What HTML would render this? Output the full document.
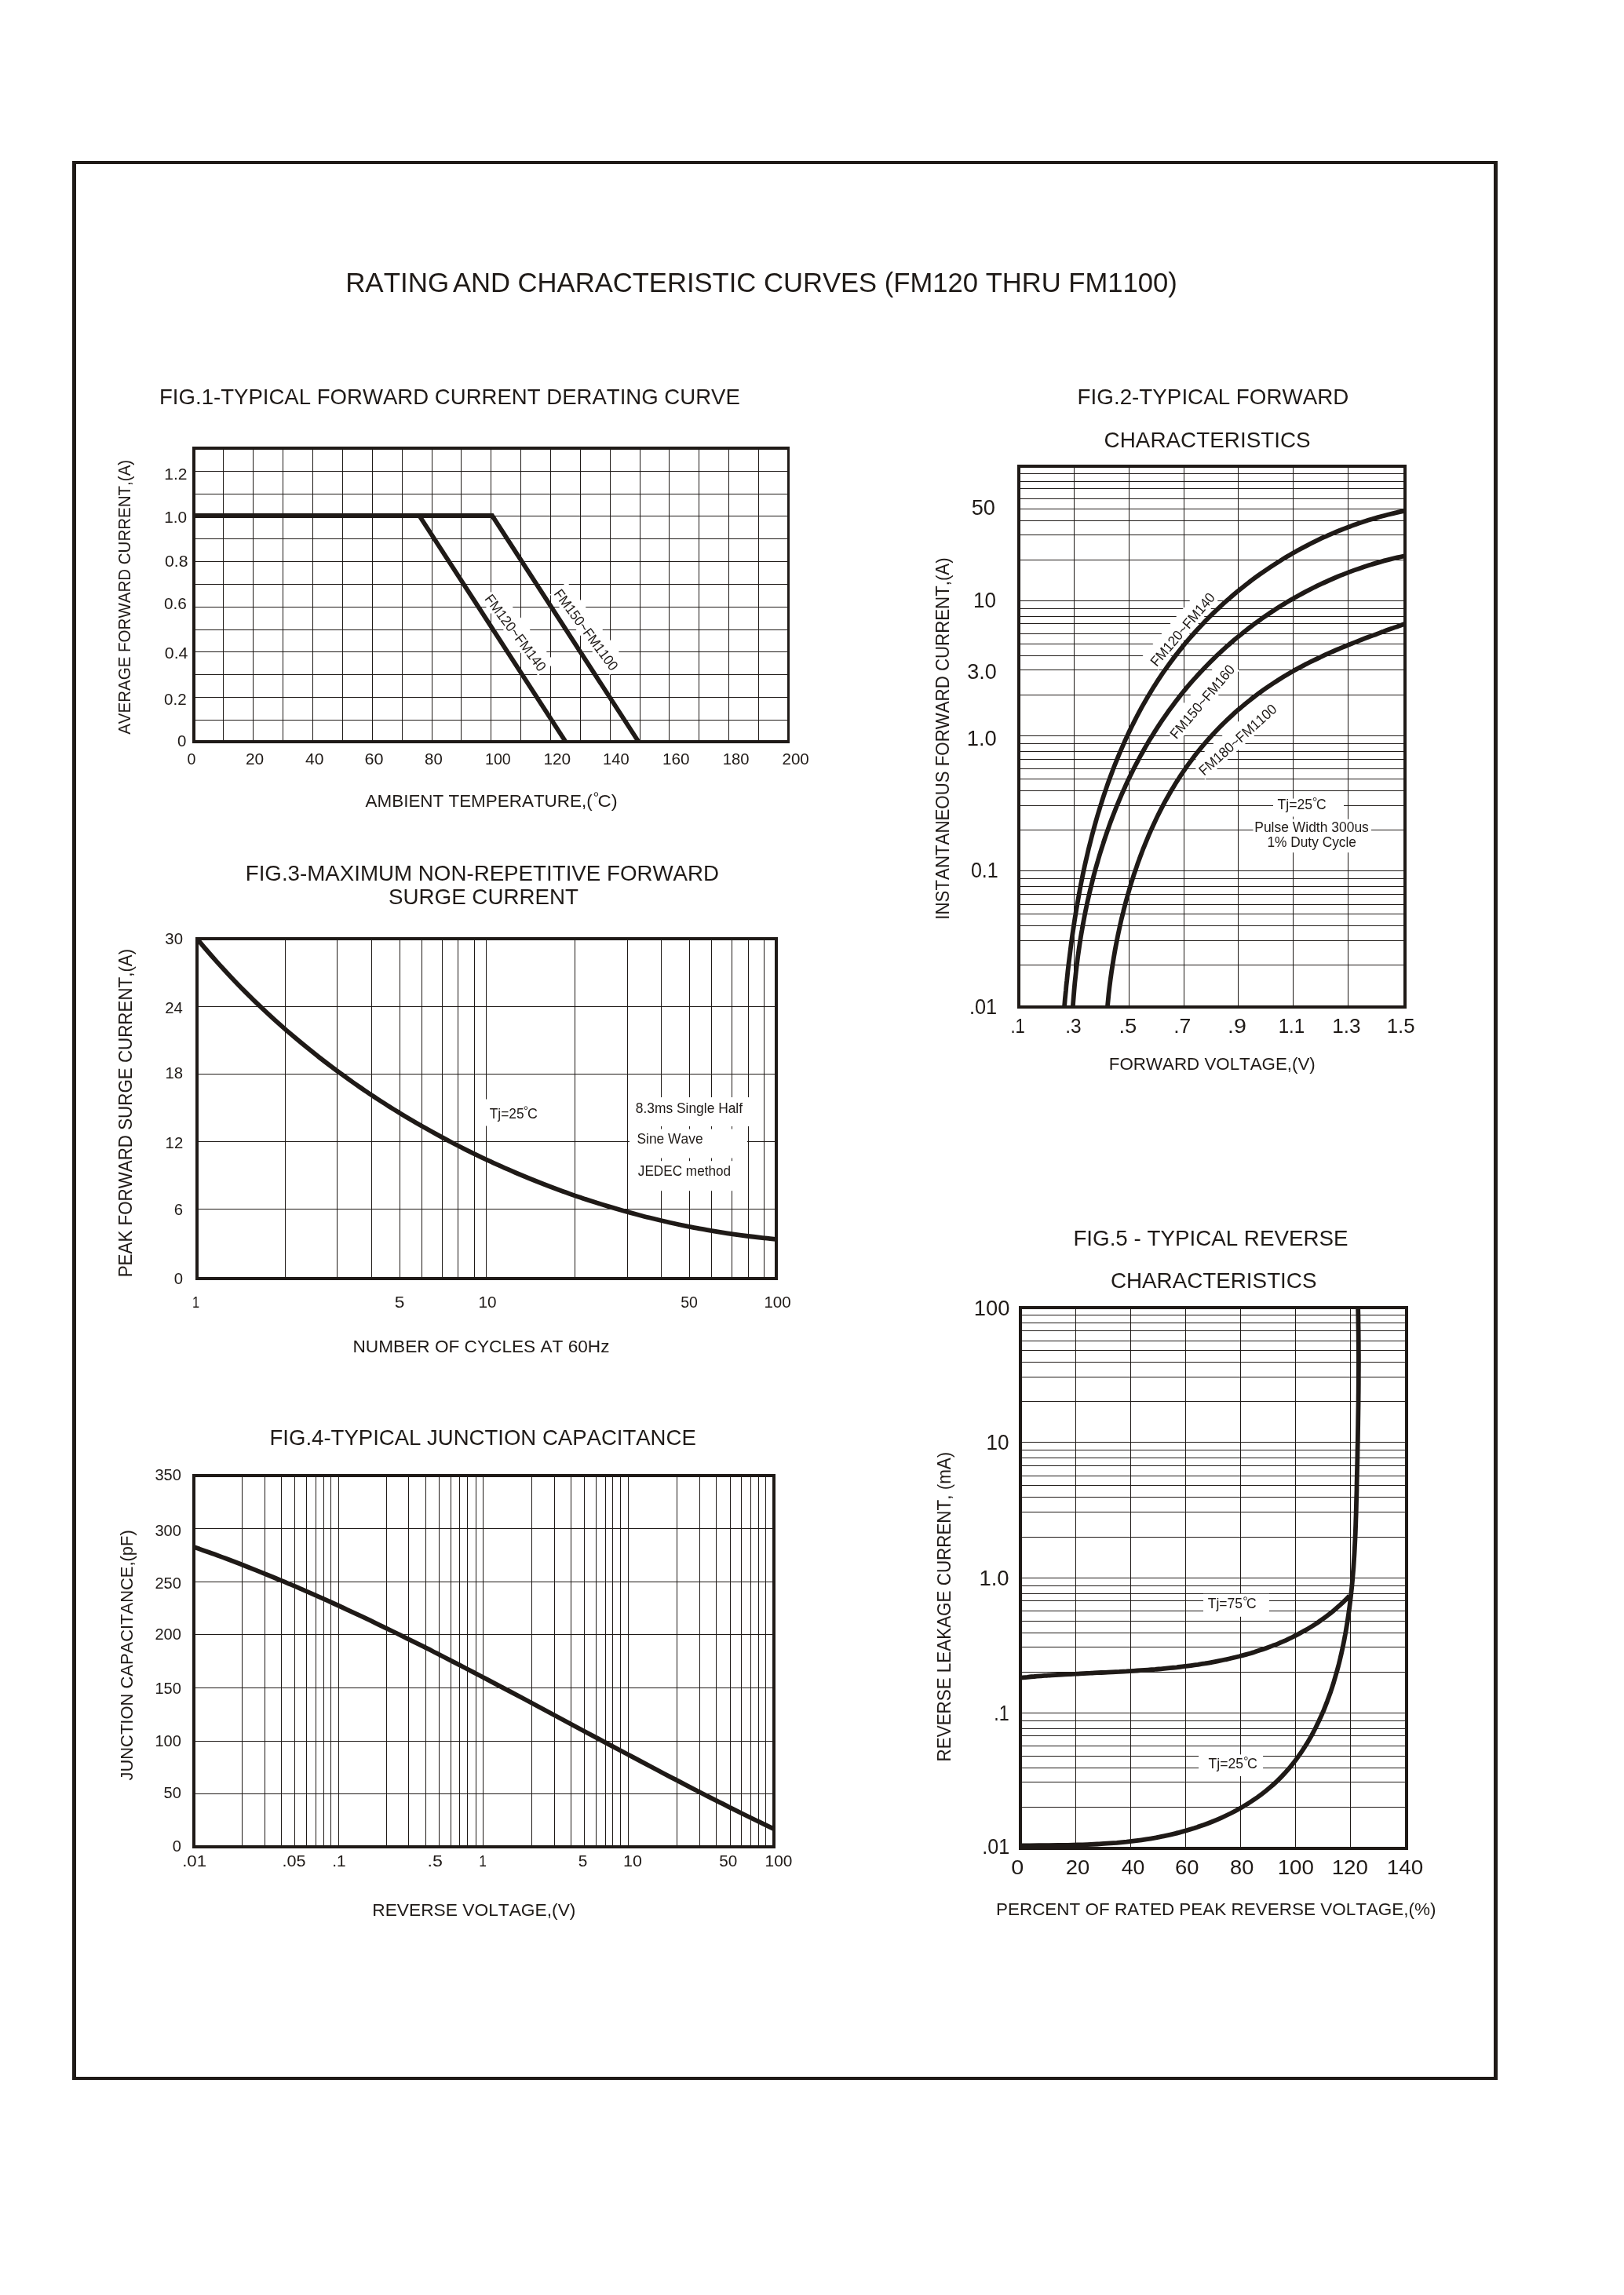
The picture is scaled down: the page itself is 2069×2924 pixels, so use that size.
<!DOCTYPE html>
<html><head><meta charset="utf-8"><title>Rating and Characteristic Curves</title>
<style>
html,body{margin:0;padding:0;background:#fff}
svg{display:block;will-change:transform}
text{font-family:"Liberation Sans",sans-serif;fill:#1f1a17;stroke:none;font-kerning:none;white-space:pre}
.halo{paint-order:stroke;stroke:#fff;stroke-width:3px;stroke-linejoin:round}
</style></head><body>
<svg width="2069" height="2924" viewBox="0 0 2069 2924" stroke="#1f1a17" fill="none">
<rect x="0" y="0" width="2069" height="2924" fill="#fff" stroke="none"/>
<path fill-rule="evenodd" fill="#1f1a17" stroke="none" d="M92,205H1908V2650H92Z M97,209V2646H1903V209Z"/>
<text x="440.13" y="371.70" font-size="34.88" textLength="132.08" lengthAdjust="spacingAndGlyphs" >RATING</text>
<text x="576.93" y="371.70" font-size="34.88" textLength="922.91" lengthAdjust="spacingAndGlyphs" >AND CHARACTERISTIC CURVES (FM120 THRU FM1100)</text>
<text x="203.04" y="514.50" font-size="26.89" textLength="739.85" lengthAdjust="spacingAndGlyphs" >FIG.1-TYPICAL FORWARD CURRENT DERATING CURVE</text>
<path d="M284.50,571.00V945.00M322.50,571.00V945.00M360.50,571.00V945.00M398.50,571.00V945.00M436.50,571.00V945.00M474.50,571.00V945.00M512.50,571.00V945.00M550.50,571.00V945.00M587.50,571.00V945.00M625.50,571.00V945.00M663.50,571.00V945.00M701.50,571.00V945.00M739.50,571.00V945.00M777.50,571.00V945.00M815.50,571.00V945.00M852.50,571.00V945.00M890.50,571.00V945.00M928.50,571.00V945.00M966.50,571.00V945.00M247.00,600.50H1004.50M247.00,629.50H1004.50M247.00,657.50H1004.50M247.00,686.50H1004.50M247.00,715.50H1004.50M247.00,744.50H1004.50M247.00,773.50H1004.50M247.00,802.50H1004.50M247.00,830.50H1004.50M247.00,859.50H1004.50M247.00,888.50H1004.50M247.00,917.50H1004.50" stroke-width="1.0" fill="none"/>
<clipPath id="c1"><rect x="247.00" y="571.00" width="757.50" height="376.00"/></clipPath>
<rect x="614.50" y="741.20" width="121.00" height="27.00" fill="#fff" stroke="none" transform="rotate(53.00 617.50 764.20)"/>
<rect x="702.80" y="734.50" width="127.70" height="27.00" fill="#fff" stroke="none" transform="rotate(53.50 705.80 757.50)"/>
<path d="M247,657 H627 L813.5,945" stroke-width="5.8" fill="none" stroke-linejoin="miter" clip-path="url(#c1)"/>
<path d="M534.2,657 L720.6,945" stroke-width="5.8" fill="none" stroke-linejoin="miter" clip-path="url(#c1)"/>
<path fill-rule="evenodd" fill="#1f1a17" stroke="none" d="M245,569H1006V947H245Z M249,573V943H1003V573Z"/>
<text x="209.20" y="610.60" font-size="20.20" textLength="29.26" lengthAdjust="spacingAndGlyphs" >1.2</text>
<text x="209.21" y="665.60" font-size="20.20" textLength="29.00" lengthAdjust="spacingAndGlyphs" >1.0</text>
<text x="209.97" y="721.60" font-size="20.20" textLength="29.55" lengthAdjust="spacingAndGlyphs" >0.8</text>
<text x="208.99" y="776.40" font-size="20.20" textLength="28.93" lengthAdjust="spacingAndGlyphs" >0.6</text>
<text x="209.77" y="838.60" font-size="20.20" textLength="29.66" lengthAdjust="spacingAndGlyphs" >0.4</text>
<text x="209.00" y="897.80" font-size="20.20" textLength="28.64" lengthAdjust="spacingAndGlyphs" >0.2</text>
<text x="226.00" y="950.60" font-size="20.20" textLength="11.40" lengthAdjust="spacingAndGlyphs" >0</text>
<text x="238.43" y="973.60" font-size="20.35" textLength="10.94" lengthAdjust="spacingAndGlyphs" >0</text>
<text x="312.95" y="973.60" font-size="20.35" textLength="23.27" lengthAdjust="spacingAndGlyphs" >20</text>
<text x="388.91" y="973.60" font-size="20.35" textLength="23.51" lengthAdjust="spacingAndGlyphs" >40</text>
<text x="464.50" y="973.60" font-size="20.35" textLength="24.04" lengthAdjust="spacingAndGlyphs" >60</text>
<text x="541.11" y="973.60" font-size="20.35" textLength="22.68" lengthAdjust="spacingAndGlyphs" >80</text>
<text x="618.00" y="973.60" font-size="20.35" textLength="32.76" lengthAdjust="spacingAndGlyphs" >100</text>
<text x="692.41" y="973.60" font-size="20.35" textLength="34.80" lengthAdjust="spacingAndGlyphs" >120</text>
<text x="767.97" y="973.60" font-size="20.35" textLength="33.62" lengthAdjust="spacingAndGlyphs" >140</text>
<text x="843.93" y="973.60" font-size="20.35" textLength="34.48" lengthAdjust="spacingAndGlyphs" >160</text>
<text x="920.66" y="973.60" font-size="20.35" textLength="33.73" lengthAdjust="spacingAndGlyphs" >180</text>
<text x="996.46" y="973.60" font-size="20.35" textLength="34.34" lengthAdjust="spacingAndGlyphs" >200</text>
<text x="465.56" y="1027.80" font-size="22.82" textLength="289.08" lengthAdjust="spacingAndGlyphs" >AMBIENT TEMPERATURE,(</text>
<text x="761.59" y="1027.80" font-size="22.82" textLength="25.19" lengthAdjust="spacingAndGlyphs" >C)</text>
<circle cx="759.4" cy="1012" r="2.3" fill="none" stroke-width="1"/>
<text transform="translate(166.40,935.80) rotate(-90)" x="-0.04" y="0" font-size="21.66" textLength="350.01" lengthAdjust="spacingAndGlyphs" >AVERAGE FORWARD CURRENT,(A)</text>
<text transform="translate(617.50,764.20) rotate(53.00)" x="-1.41" y="0" font-size="18.02" textLength="117.08" lengthAdjust="spacingAndGlyphs" >FM120~FM140</text>
<text transform="translate(705.80,757.50) rotate(53.50)" x="-1.38" y="0" font-size="18.02" textLength="123.73" lengthAdjust="spacingAndGlyphs" >FM150~FM1100</text>
<text x="312.73" y="1121.50" font-size="26.89" textLength="603.40" lengthAdjust="spacingAndGlyphs" >FIG.3-MAXIMUM NON-REPETITIVE FORWARD</text>
<text x="495.04" y="1152.30" font-size="27.33" textLength="241.90" lengthAdjust="spacingAndGlyphs" >SURGE CURRENT</text>
<path d="M363.50,1196.00V1629.00M429.50,1196.00V1629.00M473.50,1196.00V1629.00M509.50,1196.00V1629.00M537.50,1196.00V1629.00M563.50,1196.00V1629.00M583.50,1196.00V1629.00M604.50,1196.00V1629.00M619.50,1196.00V1629.00M732.50,1196.00V1629.00M799.50,1196.00V1629.00M842.50,1196.00V1629.00M878.50,1196.00V1629.00M906.50,1196.00V1629.00M932.50,1196.00V1629.00M953.50,1196.00V1629.00M973.50,1196.00V1629.00M251.00,1282.50H989.00M251.00,1368.50H989.00M251.00,1454.50H989.00M251.00,1540.50H989.00" stroke-width="1.0" fill="none"/>
<clipPath id="c3"><rect x="251.00" y="1196.00" width="738.00" height="433.00"/></clipPath>
<path d="M251.1,1196.1 C253.0,1198.4 258.8,1205.4 262.8,1210.0 C266.7,1214.6 270.7,1219.1 274.7,1223.6 C278.7,1228.1 282.8,1232.6 286.9,1237.0 C291.0,1241.5 295.1,1245.9 299.3,1250.2 C303.5,1254.6 307.7,1258.9 311.9,1263.1 C316.2,1267.4 320.5,1271.7 324.8,1275.9 C329.2,1280.1 333.5,1284.2 338.0,1288.3 C342.4,1292.4 346.8,1296.5 351.3,1300.6 C355.8,1304.6 360.3,1308.6 364.8,1312.6 C369.4,1316.5 374.0,1320.4 378.6,1324.3 C383.2,1328.2 387.9,1332.0 392.6,1335.8 C397.3,1339.6 402.0,1343.4 406.7,1347.1 C411.5,1350.8 416.3,1354.5 421.1,1358.1 C425.9,1361.8 430.8,1365.4 435.7,1368.9 C440.6,1372.5 445.5,1376.0 450.4,1379.5 C455.4,1383.0 460.3,1386.4 465.3,1389.8 C470.3,1393.2 475.4,1396.5 480.4,1399.8 C485.5,1403.2 490.6,1406.4 495.7,1409.7 C500.8,1412.9 506.0,1416.1 511.1,1419.2 C516.3,1422.4 521.5,1425.5 526.7,1428.5 C531.9,1431.6 537.2,1434.6 542.5,1437.6 C547.7,1440.6 553.0,1443.5 558.4,1446.4 C563.7,1449.3 569.0,1452.2 574.4,1455.0 C579.8,1457.8 585.2,1460.6 590.6,1463.3 C596.0,1466.0 601.4,1468.7 606.9,1471.3 C612.4,1474.0 617.8,1476.6 623.3,1479.1 C628.8,1481.7 634.4,1484.2 639.9,1486.7 C645.4,1489.2 651.0,1491.6 656.6,1494.0 C662.2,1496.3 667.8,1498.7 673.4,1501.0 C679.0,1503.3 684.6,1505.5 690.3,1507.7 C695.9,1509.9 701.6,1512.1 707.3,1514.2 C713.0,1516.3 718.7,1518.4 724.4,1520.4 C730.1,1522.5 735.8,1524.4 741.6,1526.4 C747.3,1528.3 753.1,1530.2 758.9,1532.0 C764.7,1533.9 770.4,1535.7 776.2,1537.4 C782.1,1539.1 787.9,1540.8 793.7,1542.5 C799.5,1544.1 805.4,1545.7 811.2,1547.3 C817.1,1548.8 822.9,1550.4 828.8,1551.8 C834.7,1553.3 840.5,1554.7 846.4,1556.0 C852.3,1557.4 858.2,1558.7 864.1,1560.0 C870.0,1561.2 876.0,1562.4 881.9,1563.6 C887.8,1564.7 893.7,1565.9 899.7,1566.9 C905.6,1568.0 911.6,1569.0 917.5,1569.9 C923.5,1570.9 929.4,1571.8 935.4,1572.6 C941.4,1573.5 947.3,1574.3 953.3,1575.0 C959.3,1575.8 965.3,1576.5 971.2,1577.1 C977.2,1577.8 986.2,1578.6 989.2,1578.9" stroke-width="5.8" fill="none" stroke-linejoin="miter" clip-path="url(#c3)"/>
<path fill-rule="evenodd" fill="#1f1a17" stroke="none" d="M249,1194H991V1631H249Z M253,1198V1627H987V1198Z"/>
<text x="210.36" y="1202.50" font-size="20.35" textLength="22.63" lengthAdjust="spacingAndGlyphs" >30</text>
<text x="210.16" y="1290.60" font-size="20.35" textLength="22.63" lengthAdjust="spacingAndGlyphs" >24</text>
<text x="210.45" y="1373.60" font-size="20.35" textLength="22.63" lengthAdjust="spacingAndGlyphs" >18</text>
<text x="210.59" y="1462.80" font-size="20.35" textLength="22.63" lengthAdjust="spacingAndGlyphs" >12</text>
<text x="221.78" y="1547.60" font-size="20.35" textLength="11.32" lengthAdjust="spacingAndGlyphs" >6</text>
<text x="221.68" y="1635.90" font-size="20.35" textLength="11.32" lengthAdjust="spacingAndGlyphs" >0</text>
<text x="244.95" y="1666.00" font-size="20.93" textLength="9.16" lengthAdjust="spacingAndGlyphs" >1</text>
<text x="502.69" y="1666.00" font-size="20.93" textLength="12.67" lengthAdjust="spacingAndGlyphs" >5</text>
<text x="609.42" y="1666.00" font-size="20.93" textLength="23.09" lengthAdjust="spacingAndGlyphs" >10</text>
<text x="867.22" y="1666.00" font-size="20.93" textLength="21.75" lengthAdjust="spacingAndGlyphs" >50</text>
<text x="973.43" y="1666.00" font-size="20.93" textLength="34.37" lengthAdjust="spacingAndGlyphs" >100</text>
<text x="449.54" y="1722.60" font-size="21.51" textLength="326.98" lengthAdjust="spacingAndGlyphs" >NUMBER OF CYCLES AT 60Hz</text>
<text transform="translate(168.20,1625.50) rotate(-90)" x="-1.83" y="0" font-size="23.26" textLength="418.52" lengthAdjust="spacingAndGlyphs" >PEAK FORWARD SURGE CURRENT,(A)</text>
<rect x="612.00" y="1400.50" width="80.00" height="34.00" fill="#fff" stroke="none"/>
<text x="623.71" y="1424.60" font-size="17.88" textLength="43.82" lengthAdjust="spacingAndGlyphs" >Tj=25</text>
<text x="671.89" y="1424.60" font-size="17.88" textLength="12.89" lengthAdjust="spacingAndGlyphs" >C</text>
<circle cx="669.9" cy="1411.7" r="1.9" fill="none" stroke-width="0.9"/>
<rect x="802.00" y="1398.00" width="157.00" height="37.00" fill="#fff" stroke="none"/>
<rect x="802.00" y="1438.50" width="150.00" height="37.00" fill="#fff" stroke="none"/>
<rect x="802.00" y="1479.20" width="150.00" height="38.00" fill="#fff" stroke="none"/>
<text x="809.84" y="1417.60" font-size="17.88" textLength="136.23" lengthAdjust="spacingAndGlyphs" >8.3ms Single Half</text>
<text x="811.51" y="1456.50" font-size="17.44" textLength="84.06" lengthAdjust="spacingAndGlyphs" >Sine Wave</text>
<text x="812.83" y="1498.40" font-size="17.44" textLength="118.27" lengthAdjust="spacingAndGlyphs" >JEDEC method</text>
<text x="343.54" y="1841.40" font-size="27.04" textLength="543.24" lengthAdjust="spacingAndGlyphs" >FIG.4-TYPICAL JUNCTION CAPACITANCE</text>
<path d="M308.50,1880.00V2353.00M337.50,1880.00V2353.00M358.50,1880.00V2353.00M375.50,1880.00V2353.00M390.50,1880.00V2353.00M402.50,1880.00V2353.00M412.50,1880.00V2353.00M421.50,1880.00V2353.00M431.50,1880.00V2353.00M492.50,1880.00V2353.00M520.50,1880.00V2353.00M542.50,1880.00V2353.00M559.50,1880.00V2353.00M574.50,1880.00V2353.00M585.50,1880.00V2353.00M595.50,1880.00V2353.00M606.50,1880.00V2353.00M615.50,1880.00V2353.00M677.50,1880.00V2353.00M706.50,1880.00V2353.00M727.50,1880.00V2353.00M744.50,1880.00V2353.00M759.50,1880.00V2353.00M771.50,1880.00V2353.00M780.50,1880.00V2353.00M790.50,1880.00V2353.00M800.50,1880.00V2353.00M862.50,1880.00V2353.00M891.50,1880.00V2353.00M912.50,1880.00V2353.00M930.50,1880.00V2353.00M944.50,1880.00V2353.00M956.50,1880.00V2353.00M966.50,1880.00V2353.00M975.50,1880.00V2353.00M247.00,1947.50H986.00M247.00,2015.50H986.00M247.00,2082.50H986.00M247.00,2150.50H986.00M247.00,2218.50H986.00M247.00,2285.50H986.00" stroke-width="1.0" fill="none"/>
<clipPath id="c4"><rect x="247.00" y="1880.00" width="739.00" height="473.00"/></clipPath>
<path d="M247.0,1971.0 C250.3,1972.2 260.3,1975.7 266.9,1978.1 C273.6,1980.4 280.2,1982.9 286.8,1985.3 C293.4,1987.8 300.0,1990.3 306.5,1992.8 C313.1,1995.4 319.6,1998.0 326.2,2000.6 C332.7,2003.2 339.2,2005.8 345.7,2008.5 C352.2,2011.1 358.7,2013.9 365.2,2016.6 C371.7,2019.3 378.1,2022.1 384.6,2024.9 C391.0,2027.7 397.4,2030.5 403.9,2033.3 C410.3,2036.2 416.7,2039.1 423.1,2042.0 C429.5,2044.9 435.9,2047.8 442.2,2050.8 C448.6,2053.7 455.0,2056.7 461.3,2059.7 C467.7,2062.7 474.0,2065.7 480.3,2068.8 C486.7,2071.8 493.0,2074.9 499.3,2078.0 C505.6,2081.0 511.9,2084.1 518.2,2087.3 C524.5,2090.4 530.8,2093.5 537.1,2096.7 C543.4,2099.8 549.6,2103.0 555.9,2106.2 C562.2,2109.4 568.4,2112.6 574.7,2115.8 C580.9,2119.0 587.2,2122.3 593.4,2125.5 C599.6,2128.7 605.9,2132.0 612.1,2135.2 C618.3,2138.5 624.6,2141.8 630.8,2145.1 C637.0,2148.3 643.2,2151.6 649.4,2154.9 C655.7,2158.2 661.9,2161.5 668.1,2164.8 C674.3,2168.1 680.5,2171.5 686.7,2174.8 C692.9,2178.1 699.1,2181.4 705.3,2184.7 C711.5,2188.0 717.7,2191.4 723.9,2194.7 C730.1,2198.0 736.3,2201.4 742.5,2204.7 C748.7,2208.0 754.9,2211.3 761.1,2214.6 C767.3,2218.0 773.5,2221.3 779.7,2224.6 C785.9,2227.9 792.1,2231.2 798.4,2234.5 C804.6,2237.8 810.8,2241.1 817.0,2244.4 C823.2,2247.7 829.4,2251.0 835.7,2254.3 C841.9,2257.6 848.1,2260.8 854.3,2264.1 C860.6,2267.3 866.8,2270.6 873.1,2273.8 C879.3,2277.1 885.5,2280.3 891.8,2283.5 C898.1,2286.7 904.3,2289.9 910.6,2293.1 C916.9,2296.2 923.1,2299.4 929.4,2302.6 C935.7,2305.7 942.0,2308.8 948.3,2312.0 C954.6,2315.1 960.9,2318.2 967.2,2321.2 C973.5,2324.3 983.0,2328.9 986.2,2330.4" stroke-width="5.8" fill="none" stroke-linejoin="miter" clip-path="url(#c4)"/>
<path fill-rule="evenodd" fill="#1f1a17" stroke="none" d="M245,1878H988V2355H245Z M249,1882V2351H984V1882Z"/>
<text x="197.42" y="1886.40" font-size="20.06" textLength="33.47" lengthAdjust="spacingAndGlyphs" >350</text>
<text x="197.42" y="1957.00" font-size="20.06" textLength="33.47" lengthAdjust="spacingAndGlyphs" >300</text>
<text x="197.42" y="2024.00" font-size="20.06" textLength="33.47" lengthAdjust="spacingAndGlyphs" >250</text>
<text x="197.42" y="2089.40" font-size="20.06" textLength="33.47" lengthAdjust="spacingAndGlyphs" >200</text>
<text x="197.42" y="2158.20" font-size="20.06" textLength="33.47" lengthAdjust="spacingAndGlyphs" >150</text>
<text x="197.42" y="2225.00" font-size="20.06" textLength="33.47" lengthAdjust="spacingAndGlyphs" >100</text>
<text x="208.57" y="2291.10" font-size="20.06" textLength="22.31" lengthAdjust="spacingAndGlyphs" >50</text>
<text x="219.73" y="2358.50" font-size="20.06" textLength="11.16" lengthAdjust="spacingAndGlyphs" >0</text>
<text x="232.17" y="2377.60" font-size="20.35" textLength="30.92" lengthAdjust="spacingAndGlyphs" >.01</text>
<text x="359.52" y="2377.60" font-size="20.35" textLength="30.08" lengthAdjust="spacingAndGlyphs" >.05</text>
<text x="423.29" y="2377.60" font-size="20.35" textLength="17.43" lengthAdjust="spacingAndGlyphs" >.1</text>
<text x="544.58" y="2377.60" font-size="20.35" textLength="19.40" lengthAdjust="spacingAndGlyphs" >.5</text>
<text x="610.27" y="2377.60" font-size="20.35" textLength="9.67" lengthAdjust="spacingAndGlyphs" >1</text>
<text x="736.86" y="2377.60" font-size="20.35" textLength="11.61" lengthAdjust="spacingAndGlyphs" >5</text>
<text x="793.97" y="2377.60" font-size="20.35" textLength="23.87" lengthAdjust="spacingAndGlyphs" >10</text>
<text x="916.37" y="2377.60" font-size="20.35" textLength="23.04" lengthAdjust="spacingAndGlyphs" >50</text>
<text x="974.61" y="2377.60" font-size="20.35" textLength="34.80" lengthAdjust="spacingAndGlyphs" >100</text>
<text x="474.23" y="2440.70" font-size="22.38" textLength="259.18" lengthAdjust="spacingAndGlyphs" >REVERSE VOLTAGE,(V)</text>
<text transform="translate(169.30,2268.20) rotate(-90)" x="-0.34" y="0" font-size="22.24" textLength="319.30" lengthAdjust="spacingAndGlyphs" >JUNCTION CAPACITANCE,(pF)</text>
<text x="1372.62" y="514.50" font-size="27.76" textLength="345.81" lengthAdjust="spacingAndGlyphs" >FIG.2-TYPICAL FORWARD</text>
<text x="1406.59" y="570.30" font-size="27.91" textLength="263.09" lengthAdjust="spacingAndGlyphs" >CHARACTERISTICS</text>
<path d="M1368.50,594.00V1283.00M1438.50,594.00V1283.00M1508.50,594.00V1283.00M1577.50,594.00V1283.00M1647.50,594.00V1283.00M1717.50,594.00V1283.00M1298.00,603.50H1790.00M1298.00,613.50H1790.00M1298.00,622.50H1790.00M1298.00,635.50H1790.00M1298.00,648.50H1790.00M1298.00,663.50H1790.00M1298.00,681.50H1790.00M1298.00,713.50H1790.00M1298.00,765.50H1790.00M1298.00,775.50H1790.00M1298.00,785.50H1790.00M1298.00,794.50H1790.00M1298.00,807.50H1790.00M1298.00,820.50H1790.00M1298.00,835.50H1790.00M1298.00,853.50H1790.00M1298.00,885.50H1790.00M1298.00,937.50H1790.00M1298.00,947.50H1790.00M1298.00,957.50H1790.00M1298.00,967.50H1790.00M1298.00,979.50H1790.00M1298.00,992.50H1790.00M1298.00,1007.50H1790.00M1298.00,1026.50H1790.00M1298.00,1057.50H1790.00M1298.00,1109.50H1790.00M1298.00,1119.50H1790.00M1298.00,1129.50H1790.00M1298.00,1139.50H1790.00M1298.00,1152.50H1790.00M1298.00,1164.50H1790.00M1298.00,1179.50H1790.00M1298.00,1198.50H1790.00M1298.00,1229.50H1790.00" stroke-width="1.0" fill="none"/>
<clipPath id="c2"><rect x="1298.00" y="594.00" width="492.00" height="689.00"/></clipPath>
<rect x="1471.70" y="826.20" width="120.00" height="27.00" fill="#fff" stroke="none" transform="rotate(-49.60 1474.70 849.20)"/>
<rect x="1496.70" y="918.40" width="120.50" height="27.00" fill="#fff" stroke="none" transform="rotate(-49.70 1499.70 941.40)"/>
<rect x="1532.00" y="965.00" width="129.70" height="27.00" fill="#fff" stroke="none" transform="rotate(-41.70 1535.00 988.00)"/>
<rect x="1622.00" y="1017.50" width="90.00" height="23.00" fill="#fff" stroke="none"/>
<rect x="1596.60" y="1043.70" width="150.40" height="42.50" fill="#fff" stroke="none"/>
<path d="M1355.8,1285.0 C1356.0,1283.0 1356.5,1277.1 1356.8,1273.2 C1357.2,1269.2 1357.6,1265.3 1358.0,1261.3 C1358.3,1257.3 1358.7,1253.4 1359.2,1249.4 C1359.6,1245.4 1360.0,1241.4 1360.4,1237.4 C1360.9,1233.5 1361.3,1229.5 1361.8,1225.5 C1362.3,1221.5 1362.8,1217.5 1363.3,1213.5 C1363.8,1209.5 1364.3,1205.5 1364.8,1201.5 C1365.4,1197.5 1365.9,1193.5 1366.5,1189.5 C1367.1,1185.5 1367.7,1181.5 1368.3,1177.5 C1368.9,1173.5 1369.5,1169.5 1370.2,1165.5 C1370.8,1161.5 1371.5,1157.5 1372.2,1153.5 C1372.8,1149.5 1373.6,1145.5 1374.3,1141.5 C1375.0,1137.5 1375.8,1133.5 1376.5,1129.5 C1377.3,1125.5 1378.1,1121.5 1378.9,1117.5 C1379.7,1113.6 1380.5,1109.6 1381.4,1105.6 C1382.3,1101.6 1383.1,1097.7 1384.1,1093.7 C1385.0,1089.8 1385.9,1085.8 1386.8,1081.9 C1387.8,1077.9 1388.8,1074.0 1389.8,1070.1 C1390.8,1066.1 1391.8,1062.2 1392.9,1058.3 C1393.9,1054.4 1395.0,1050.5 1396.1,1046.6 C1397.2,1042.7 1398.3,1038.8 1399.5,1035.0 C1400.7,1031.1 1401.8,1027.2 1403.1,1023.4 C1404.3,1019.5 1405.5,1015.7 1406.8,1011.9 C1408.1,1008.0 1409.4,1004.2 1410.7,1000.4 C1412.0,996.6 1413.4,992.9 1414.8,989.1 C1416.2,985.3 1417.6,981.6 1419.0,977.8 C1420.5,974.1 1422.0,970.4 1423.5,966.6 C1425.0,962.9 1426.5,959.2 1428.1,955.6 C1429.7,951.9 1431.3,948.2 1432.9,944.6 C1434.6,941.0 1436.2,937.3 1437.9,933.7 C1439.7,930.1 1441.4,926.5 1443.2,923.0 C1444.9,919.4 1446.8,915.9 1448.6,912.3 C1450.4,908.8 1452.3,905.3 1454.2,901.8 C1456.2,898.4 1458.1,894.9 1460.1,891.5 C1462.1,888.0 1464.1,884.6 1466.2,881.2 C1468.2,877.8 1470.3,874.4 1472.5,871.1 C1474.6,867.7 1476.8,864.4 1479.0,861.1 C1481.2,857.8 1483.5,854.6 1485.8,851.3 C1488.1,848.1 1490.4,844.9 1492.8,841.7 C1495.1,838.5 1497.6,835.3 1500.0,832.2 C1502.5,829.0 1505.0,825.9 1507.5,822.8 C1510.0,819.8 1512.6,816.7 1515.2,813.7 C1517.8,810.6 1520.4,807.7 1523.1,804.7 C1525.8,801.7 1528.5,798.8 1531.3,795.9 C1534.0,793.0 1536.8,790.1 1539.6,787.3 C1542.5,784.4 1545.3,781.6 1548.2,778.9 C1551.1,776.1 1554.0,773.3 1557.0,770.6 C1559.9,767.9 1562.9,765.3 1566.0,762.6 C1569.0,760.0 1572.0,757.4 1575.1,754.8 C1578.2,752.2 1581.3,749.7 1584.5,747.2 C1587.6,744.7 1590.8,742.3 1594.0,739.8 C1597.2,737.4 1600.5,735.0 1603.7,732.7 C1607.0,730.3 1610.3,728.0 1613.6,725.8 C1617.0,723.5 1620.3,721.3 1623.7,719.1 C1627.1,716.9 1630.5,714.7 1633.9,712.6 C1637.3,710.5 1640.8,708.5 1644.3,706.4 C1647.8,704.4 1651.3,702.4 1654.8,700.5 C1658.4,698.5 1661.9,696.6 1665.5,694.8 C1669.1,692.9 1672.7,691.1 1676.3,689.4 C1679.9,687.6 1683.6,685.9 1687.3,684.2 C1690.9,682.5 1694.6,680.9 1698.3,679.3 C1702.0,677.7 1705.8,676.2 1709.5,674.7 C1713.3,673.2 1717.1,671.7 1720.9,670.4 C1724.7,669.0 1728.5,667.6 1732.3,666.3 C1736.1,665.0 1740.0,663.8 1743.8,662.6 C1747.7,661.4 1751.6,660.2 1755.5,659.1 C1759.4,658.0 1763.3,657.0 1767.2,656.0 C1771.2,655.0 1775.1,654.0 1779.1,653.1 C1783.0,652.2 1789.0,651.0 1791.0,650.6" stroke-width="5.8" fill="none" stroke-linejoin="miter" clip-path="url(#c2)"/>
<path d="M1366.7,1285.0 C1366.8,1283.2 1367.2,1277.6 1367.5,1273.9 C1367.8,1270.2 1368.1,1266.5 1368.4,1262.7 C1368.7,1259.0 1369.1,1255.3 1369.4,1251.6 C1369.8,1247.9 1370.2,1244.2 1370.6,1240.4 C1371.0,1236.7 1371.4,1233.0 1371.9,1229.3 C1372.4,1225.6 1372.8,1221.8 1373.3,1218.1 C1373.8,1214.4 1374.4,1210.7 1374.9,1207.0 C1375.5,1203.3 1376.0,1199.5 1376.6,1195.8 C1377.2,1192.1 1377.8,1188.4 1378.5,1184.7 C1379.1,1181.0 1379.8,1177.3 1380.5,1173.6 C1381.2,1169.9 1381.9,1166.2 1382.6,1162.5 C1383.4,1158.8 1384.1,1155.2 1384.9,1151.5 C1385.7,1147.8 1386.5,1144.1 1387.4,1140.5 C1388.2,1136.8 1389.1,1133.1 1390.0,1129.5 C1390.9,1125.8 1391.8,1122.2 1392.7,1118.5 C1393.6,1114.9 1394.6,1111.3 1395.6,1107.6 C1396.6,1104.0 1397.6,1100.4 1398.7,1096.8 C1399.7,1093.2 1400.8,1089.6 1401.9,1086.0 C1403.0,1082.4 1404.1,1078.9 1405.3,1075.3 C1406.4,1071.7 1407.6,1068.2 1408.8,1064.6 C1410.0,1061.1 1411.2,1057.5 1412.5,1054.0 C1413.7,1050.5 1415.0,1047.0 1416.3,1043.5 C1417.7,1040.0 1419.0,1036.5 1420.4,1033.0 C1421.7,1029.6 1423.1,1026.1 1424.6,1022.7 C1426.0,1019.2 1427.5,1015.8 1428.9,1012.4 C1430.4,1009.0 1431.9,1005.6 1433.5,1002.2 C1435.0,998.8 1436.6,995.4 1438.2,992.1 C1439.8,988.7 1441.4,985.4 1443.1,982.1 C1444.7,978.8 1446.4,975.5 1448.2,972.2 C1449.9,968.9 1451.6,965.6 1453.4,962.4 C1455.2,959.1 1457.0,955.9 1458.8,952.7 C1460.7,949.5 1462.5,946.3 1464.4,943.1 C1466.3,940.0 1468.3,936.8 1470.2,933.7 C1472.2,930.6 1474.2,927.4 1476.2,924.4 C1478.2,921.3 1480.3,918.2 1482.4,915.2 C1484.5,912.1 1486.6,909.1 1488.7,906.1 C1490.9,903.1 1493.1,900.1 1495.3,897.2 C1497.5,894.2 1499.8,891.3 1502.0,888.4 C1504.3,885.5 1506.6,882.6 1509.0,879.7 C1511.3,876.9 1513.7,874.0 1516.1,871.2 C1518.5,868.4 1521.0,865.6 1523.5,862.9 C1525.9,860.1 1528.4,857.4 1531.0,854.7 C1533.5,852.0 1536.1,849.3 1538.7,846.7 C1541.3,844.0 1543.9,841.4 1546.6,838.8 C1549.2,836.2 1551.9,833.7 1554.7,831.2 C1557.4,828.6 1560.1,826.1 1562.9,823.6 C1565.7,821.2 1568.5,818.7 1571.3,816.3 C1574.1,813.9 1577.0,811.5 1579.9,809.2 C1582.8,806.8 1585.7,804.5 1588.6,802.2 C1591.6,799.9 1594.5,797.6 1597.5,795.4 C1600.5,793.2 1603.5,791.0 1606.6,788.8 C1609.6,786.7 1612.7,784.5 1615.8,782.5 C1618.9,780.4 1622.0,778.3 1625.1,776.3 C1628.3,774.2 1631.4,772.2 1634.6,770.3 C1637.8,768.3 1641.0,766.4 1644.2,764.5 C1647.5,762.6 1650.7,760.8 1654.0,759.0 C1657.3,757.2 1660.6,755.4 1663.9,753.6 C1667.2,751.9 1670.5,750.2 1673.9,748.5 C1677.2,746.8 1680.6,745.2 1684.0,743.6 C1687.4,742.0 1690.8,740.5 1694.2,739.0 C1697.7,737.5 1701.1,736.0 1704.6,734.5 C1708.1,733.1 1711.6,731.7 1715.1,730.4 C1718.6,729.0 1722.1,727.7 1725.6,726.4 C1729.2,725.1 1732.7,723.9 1736.3,722.7 C1739.9,721.5 1743.5,720.4 1747.1,719.3 C1750.7,718.1 1754.3,717.1 1757.9,716.1 C1761.6,715.0 1765.2,714.0 1768.9,713.1 C1772.5,712.2 1776.2,711.3 1779.9,710.4 C1783.6,709.6 1789.2,708.4 1791.0,708.0" stroke-width="5.8" fill="none" stroke-linejoin="miter" clip-path="url(#c2)"/>
<path d="M1410.7,1285.0 C1410.9,1283.4 1411.3,1278.8 1411.6,1275.7 C1411.9,1272.6 1412.2,1269.5 1412.5,1266.3 C1412.9,1263.2 1413.2,1260.1 1413.6,1256.9 C1414.0,1253.8 1414.4,1250.6 1414.8,1247.5 C1415.2,1244.3 1415.7,1241.2 1416.1,1238.0 C1416.6,1234.8 1417.1,1231.7 1417.6,1228.5 C1418.1,1225.3 1418.6,1222.1 1419.1,1219.0 C1419.7,1215.8 1420.2,1212.6 1420.8,1209.4 C1421.4,1206.2 1422.0,1203.0 1422.6,1199.9 C1423.2,1196.7 1423.9,1193.5 1424.5,1190.3 C1425.2,1187.1 1425.9,1183.9 1426.6,1180.7 C1427.3,1177.6 1428.0,1174.4 1428.7,1171.2 C1429.5,1168.0 1430.3,1164.8 1431.1,1161.7 C1431.8,1158.5 1432.7,1155.3 1433.5,1152.1 C1434.3,1149.0 1435.2,1145.8 1436.1,1142.7 C1437.0,1139.5 1437.9,1136.3 1438.8,1133.2 C1439.7,1130.0 1440.7,1126.9 1441.6,1123.8 C1442.6,1120.6 1443.6,1117.5 1444.6,1114.4 C1445.7,1111.3 1446.7,1108.2 1447.8,1105.1 C1448.8,1102.0 1449.9,1098.9 1451.1,1095.8 C1452.2,1092.7 1453.3,1089.6 1454.5,1086.6 C1455.6,1083.5 1456.8,1080.5 1458.1,1077.4 C1459.3,1074.4 1460.5,1071.4 1461.8,1068.3 C1463.0,1065.3 1464.3,1062.3 1465.7,1059.3 C1467.0,1056.4 1468.3,1053.4 1469.7,1050.4 C1471.1,1047.5 1472.5,1044.5 1473.9,1041.6 C1475.3,1038.7 1476.7,1035.8 1478.2,1032.9 C1479.7,1030.0 1481.2,1027.1 1482.7,1024.2 C1484.3,1021.4 1485.8,1018.5 1487.4,1015.7 C1489.0,1012.9 1490.6,1010.1 1492.2,1007.3 C1493.9,1004.5 1495.5,1001.8 1497.2,999.0 C1498.9,996.3 1500.6,993.5 1502.4,990.8 C1504.1,988.1 1505.9,985.5 1507.7,982.8 C1509.5,980.2 1511.3,977.5 1513.2,974.9 C1515.1,972.3 1517.0,969.7 1518.9,967.2 C1520.8,964.6 1522.7,962.1 1524.7,959.5 C1526.7,957.0 1528.7,954.6 1530.7,952.1 C1532.8,949.6 1534.8,947.2 1536.9,944.8 C1539.0,942.4 1541.2,940.0 1543.3,937.7 C1545.5,935.3 1547.6,933.0 1549.8,930.7 C1552.0,928.4 1554.3,926.1 1556.5,923.8 C1558.8,921.6 1561.1,919.4 1563.4,917.2 C1565.7,915.0 1568.0,912.8 1570.4,910.7 C1572.7,908.5 1575.1,906.4 1577.5,904.3 C1579.9,902.3 1582.3,900.2 1584.8,898.2 C1587.2,896.1 1589.7,894.1 1592.2,892.2 C1594.7,890.2 1597.2,888.3 1599.8,886.3 C1602.3,884.4 1604.9,882.5 1607.4,880.7 C1610.0,878.8 1612.6,877.0 1615.3,875.2 C1617.9,873.4 1620.5,871.6 1623.2,869.9 C1625.8,868.1 1628.5,866.4 1631.2,864.7 C1633.9,863.0 1636.6,861.4 1639.4,859.8 C1642.1,858.1 1644.9,856.5 1647.6,855.0 C1650.4,853.4 1653.2,851.9 1656.0,850.3 C1658.8,848.8 1661.6,847.4 1664.5,845.9 C1667.3,844.4 1670.2,843.0 1673.0,841.6 C1675.9,840.2 1678.8,838.8 1681.7,837.5 C1684.6,836.1 1687.5,834.8 1690.4,833.4 C1693.4,832.1 1696.3,830.8 1699.3,829.5 C1702.2,828.2 1705.2,827.0 1708.2,825.7 C1711.1,824.5 1714.1,823.2 1717.1,822.0 C1720.1,820.8 1723.1,819.6 1726.2,818.4 C1729.2,817.2 1732.2,816.0 1735.3,814.8 C1738.3,813.7 1741.4,812.5 1744.4,811.3 C1747.5,810.2 1750.6,809.0 1753.7,807.9 C1756.7,806.8 1759.8,805.6 1762.9,804.5 C1766.0,803.3 1769.1,802.2 1772.3,801.1 C1775.4,800.0 1778.5,798.8 1781.6,797.7 C1784.7,796.6 1789.4,794.9 1791.0,794.3" stroke-width="5.8" fill="none" stroke-linejoin="miter" clip-path="url(#c2)"/>
<path fill-rule="evenodd" fill="#1f1a17" stroke="none" d="M1296,592H1792V1285H1296Z M1300,596V1281H1788V596Z"/>
<text transform="translate(1474.70,849.20) rotate(-49.60)" x="-1.40" y="0" font-size="18.02" textLength="116.06" lengthAdjust="spacingAndGlyphs" >FM120~FM140</text>
<text transform="translate(1499.70,941.40) rotate(-49.70)" x="-1.40" y="0" font-size="18.02" textLength="116.57" lengthAdjust="spacingAndGlyphs" >FM150~FM160</text>
<text transform="translate(1535.00,988.00) rotate(-41.70)" x="-1.40" y="0" font-size="18.02" textLength="125.77" lengthAdjust="spacingAndGlyphs" >FM180~FM1100</text>
<text x="1627.60" y="1030.80" font-size="17.88" textLength="44.53" lengthAdjust="spacingAndGlyphs" >Tj=25</text>
<text x="1677.01" y="1030.80" font-size="17.88" textLength="12.66" lengthAdjust="spacingAndGlyphs" >C</text>
<circle cx="1675.1" cy="1018.2" r="1.9" fill="none" stroke-width="0.9"/>
<text x="1598.27" y="1059.70" font-size="17.88" textLength="145.56" lengthAdjust="spacingAndGlyphs" >Pulse Width 300us</text>
<text x="1614.38" y="1078.60" font-size="17.73" textLength="113.59" lengthAdjust="spacingAndGlyphs" >1% Duty Cycle</text>
<text x="1237.71" y="656.30" font-size="26.74" textLength="30.25" lengthAdjust="spacingAndGlyphs" >50</text>
<text x="1240.01" y="774.00" font-size="26.74" textLength="29.00" lengthAdjust="spacingAndGlyphs" >10</text>
<text x="1232.27" y="864.50" font-size="26.74" textLength="37.48" lengthAdjust="spacingAndGlyphs" >3.0</text>
<text x="1231.71" y="950.10" font-size="26.74" textLength="38.05" lengthAdjust="spacingAndGlyphs" >1.0</text>
<text x="1236.92" y="1117.50" font-size="26.74" textLength="34.91" lengthAdjust="spacingAndGlyphs" >0.1</text>
<text x="1234.88" y="1292.30" font-size="26.74" textLength="35.25" lengthAdjust="spacingAndGlyphs" >.01</text>
<text x="1287.49" y="1316.30" font-size="26.60" textLength="18.39" lengthAdjust="spacingAndGlyphs" >.1</text>
<text x="1357.17" y="1316.30" font-size="26.60" textLength="20.41" lengthAdjust="spacingAndGlyphs" >.3</text>
<text x="1425.50" y="1316.30" font-size="26.60" textLength="22.85" lengthAdjust="spacingAndGlyphs" >.5</text>
<text x="1495.17" y="1316.30" font-size="26.60" textLength="22.16" lengthAdjust="spacingAndGlyphs" >.7</text>
<text x="1564.09" y="1316.30" font-size="26.60" textLength="23.87" lengthAdjust="spacingAndGlyphs" >.9</text>
<text x="1628.66" y="1316.30" font-size="26.60" textLength="33.51" lengthAdjust="spacingAndGlyphs" >1.1</text>
<text x="1697.21" y="1316.30" font-size="26.60" textLength="36.34" lengthAdjust="spacingAndGlyphs" >1.3</text>
<text x="1766.74" y="1316.30" font-size="26.60" textLength="35.85" lengthAdjust="spacingAndGlyphs" >1.5</text>
<text x="1412.87" y="1363.10" font-size="22.24" textLength="262.92" lengthAdjust="spacingAndGlyphs" >FORWARD VOLTAGE,(V)</text>
<text transform="translate(1208.80,1169.60) rotate(-90)" x="-2.05" y="0" font-size="24.71" textLength="461.23" lengthAdjust="spacingAndGlyphs" >INSTANTANEOUS FORWARD CURRENT,(A)</text>
<text x="1367.42" y="1586.60" font-size="28.05" textLength="350.07" lengthAdjust="spacingAndGlyphs" >FIG.5 - TYPICAL REVERSE</text>
<text x="1414.89" y="1641.40" font-size="27.91" textLength="262.59" lengthAdjust="spacingAndGlyphs" >CHARACTERISTICS</text>
<path d="M1370.50,1666.00V2355.00M1440.50,1666.00V2355.00M1510.50,1666.00V2355.00M1580.50,1666.00V2355.00M1650.50,1666.00V2355.00M1720.50,1666.00V2355.00M1300.00,1675.50H1792.00M1300.00,1685.50H1792.00M1300.00,1695.50H1792.00M1300.00,1708.50H1792.00M1300.00,1720.50H1792.00M1300.00,1735.50H1792.00M1300.00,1754.50H1792.00M1300.00,1785.50H1792.00M1300.00,1837.50H1792.00M1300.00,1847.50H1792.00M1300.00,1857.50H1792.00M1300.00,1867.50H1792.00M1300.00,1880.50H1792.00M1300.00,1892.50H1792.00M1300.00,1907.50H1792.00M1300.00,1926.50H1792.00M1300.00,1958.50H1792.00M1300.00,2010.50H1792.00M1300.00,2020.50H1792.00M1300.00,2030.50H1792.00M1300.00,2039.50H1792.00M1300.00,2052.50H1792.00M1300.00,2065.50H1792.00M1300.00,2080.50H1792.00M1300.00,2098.50H1792.00M1300.00,2130.50H1792.00M1300.00,2182.50H1792.00M1300.00,2192.50H1792.00M1300.00,2202.50H1792.00M1300.00,2211.50H1792.00M1300.00,2224.50H1792.00M1300.00,2237.50H1792.00M1300.00,2252.50H1792.00M1300.00,2270.50H1792.00M1300.00,2302.50H1792.00" stroke-width="1.0" fill="none"/>
<clipPath id="c5"><rect x="1300.00" y="1666.00" width="492.00" height="689.00"/></clipPath>
<rect x="1533.00" y="2030.80" width="84.00" height="29.00" fill="#fff" stroke="none"/>
<rect x="1527.10" y="2235.40" width="82.00" height="27.50" fill="#fff" stroke="none"/>
<path d="M1300.0,2137.6 C1301.5,2137.5 1305.8,2137.0 1308.8,2136.8 C1311.7,2136.5 1314.6,2136.2 1317.6,2136.0 C1320.5,2135.7 1323.5,2135.5 1326.4,2135.3 C1329.4,2135.1 1332.3,2134.8 1335.3,2134.6 C1338.3,2134.4 1341.3,2134.3 1344.3,2134.1 C1347.2,2133.9 1350.2,2133.7 1353.2,2133.5 C1356.2,2133.4 1359.2,2133.2 1362.2,2133.0 C1365.3,2132.9 1368.3,2132.7 1371.3,2132.6 C1374.3,2132.4 1377.3,2132.3 1380.4,2132.1 C1383.4,2132.0 1386.4,2131.8 1389.5,2131.7 C1392.5,2131.5 1395.5,2131.4 1398.6,2131.2 C1401.6,2131.1 1404.7,2130.9 1407.7,2130.8 C1410.8,2130.7 1413.8,2130.5 1416.9,2130.3 C1419.9,2130.2 1423.0,2130.0 1426.0,2129.9 C1429.1,2129.7 1432.1,2129.5 1435.2,2129.4 C1438.2,2129.2 1441.3,2129.0 1444.3,2128.8 C1447.4,2128.6 1450.4,2128.4 1453.5,2128.2 C1456.5,2128.0 1459.6,2127.8 1462.6,2127.6 C1465.7,2127.4 1468.7,2127.1 1471.8,2126.9 C1474.8,2126.6 1477.9,2126.4 1480.9,2126.1 C1483.9,2125.8 1487.0,2125.5 1490.0,2125.2 C1493.0,2124.9 1496.1,2124.6 1499.1,2124.3 C1502.1,2123.9 1505.1,2123.6 1508.1,2123.2 C1511.2,2122.8 1514.2,2122.4 1517.2,2122.0 C1520.2,2121.6 1523.2,2121.2 1526.2,2120.8 C1529.2,2120.3 1532.2,2119.8 1535.1,2119.4 C1538.1,2118.9 1541.1,2118.4 1544.1,2117.8 C1547.0,2117.3 1550.0,2116.7 1552.9,2116.1 C1555.9,2115.6 1558.8,2115.0 1561.8,2114.3 C1564.7,2113.7 1567.6,2113.0 1570.5,2112.3 C1573.5,2111.6 1576.4,2110.9 1579.3,2110.2 C1582.2,2109.4 1585.1,2108.7 1587.9,2107.9 C1590.8,2107.1 1593.7,2106.2 1596.5,2105.4 C1599.4,2104.5 1602.2,2103.6 1605.0,2102.6 C1607.9,2101.7 1610.7,2100.7 1613.5,2099.7 C1616.3,2098.7 1619.1,2097.7 1621.8,2096.6 C1624.6,2095.6 1627.4,2094.5 1630.1,2093.3 C1632.8,2092.2 1635.6,2091.0 1638.3,2089.8 C1641.0,2088.5 1643.6,2087.3 1646.3,2086.0 C1649.0,2084.7 1651.6,2083.3 1654.2,2081.9 C1656.9,2080.5 1659.5,2079.1 1662.0,2077.6 C1664.6,2076.2 1667.2,2074.7 1669.7,2073.1 C1672.3,2071.5 1674.8,2069.9 1677.3,2068.3 C1679.7,2066.6 1682.2,2064.9 1684.6,2063.2 C1687.1,2061.5 1689.5,2059.7 1691.9,2057.8 C1694.3,2056.0 1696.6,2054.1 1698.9,2052.2 C1701.3,2050.2 1703.6,2048.2 1705.8,2046.2 C1708.1,2044.1 1710.4,2042.1 1712.6,2039.9 C1714.8,2037.8 1718.0,2034.4 1719.1,2033.3" stroke-width="5.8" fill="none" stroke-linejoin="round" clip-path="url(#c5)"/>
<path d="M1300.0,2351.4 C1302.0,2351.4 1307.9,2351.3 1311.9,2351.3 C1315.9,2351.3 1319.9,2351.3 1323.9,2351.2 C1328.0,2351.2 1332.0,2351.2 1336.1,2351.1 C1340.1,2351.1 1344.2,2351.1 1348.3,2351.0 C1352.4,2351.0 1356.5,2350.9 1360.6,2350.8 C1364.7,2350.7 1368.8,2350.6 1373.0,2350.5 C1377.1,2350.4 1381.3,2350.2 1385.4,2350.1 C1389.5,2349.9 1393.7,2349.7 1397.9,2349.5 C1402.0,2349.3 1406.2,2349.0 1410.3,2348.7 C1414.5,2348.4 1418.7,2348.1 1422.8,2347.8 C1427.0,2347.4 1431.2,2347.0 1435.3,2346.6 C1439.5,2346.1 1443.6,2345.6 1447.8,2345.1 C1451.9,2344.6 1456.1,2344.0 1460.2,2343.3 C1464.3,2342.7 1468.5,2342.0 1472.6,2341.3 C1476.7,2340.5 1480.8,2339.7 1484.9,2338.8 C1489.0,2338.0 1493.0,2337.1 1497.1,2336.1 C1501.2,2335.1 1505.2,2334.0 1509.2,2332.9 C1513.3,2331.7 1517.3,2330.5 1521.3,2329.3 C1525.3,2328.0 1529.2,2326.6 1533.2,2325.2 C1537.1,2323.8 1541.0,2322.3 1544.9,2320.7 C1548.7,2319.2 1552.6,2317.5 1556.4,2315.8 C1560.1,2314.1 1563.9,2312.3 1567.6,2310.5 C1571.3,2308.6 1574.9,2306.7 1578.5,2304.7 C1582.1,2302.7 1585.7,2300.6 1589.1,2298.4 C1592.6,2296.3 1596.0,2294.0 1599.4,2291.7 C1602.7,2289.4 1606.0,2287.0 1609.2,2284.5 C1612.4,2282.1 1615.5,2279.5 1618.5,2276.9 C1621.6,2274.3 1624.5,2271.6 1627.4,2268.8 C1630.3,2266.0 1633.1,2263.2 1635.8,2260.2 C1638.5,2257.3 1641.1,2254.3 1643.7,2251.3 C1646.2,2248.2 1648.7,2245.1 1651.1,2241.9 C1653.5,2238.7 1655.8,2235.4 1658.1,2232.1 C1660.3,2228.8 1662.5,2225.4 1664.6,2222.0 C1666.7,2218.6 1668.7,2215.1 1670.7,2211.6 C1672.6,2208.0 1674.5,2204.5 1676.4,2200.8 C1678.2,2197.2 1679.9,2193.5 1681.6,2189.8 C1683.3,2186.1 1685.0,2182.4 1686.6,2178.6 C1688.1,2174.8 1689.6,2170.9 1691.1,2167.1 C1692.5,2163.2 1693.9,2159.3 1695.3,2155.4 C1696.6,2151.5 1697.9,2147.6 1699.1,2143.6 C1700.3,2139.6 1701.5,2135.6 1702.6,2131.6 C1703.8,2127.6 1704.8,2123.6 1705.9,2119.5 C1706.9,2115.5 1707.8,2111.4 1708.8,2107.3 C1709.7,2103.3 1710.6,2099.2 1711.4,2095.1 C1712.3,2091.0 1713.0,2086.9 1713.8,2082.8 C1714.5,2078.7 1715.3,2074.6 1715.9,2070.5 C1716.6,2066.4 1717.2,2062.3 1717.8,2058.2 C1718.4,2054.1 1719.0,2050.0 1719.5,2045.9 C1720.0,2041.8 1720.5,2037.7 1721.0,2033.6 C1721.4,2029.5 1721.9,2025.4 1722.3,2021.3 C1722.7,2017.2 1723.1,2013.1 1723.4,2009.0 C1723.7,2004.9 1724.1,2000.8 1724.4,1996.7 C1724.7,1992.6 1724.9,1988.5 1725.2,1984.4 C1725.5,1980.3 1725.7,1976.2 1725.9,1972.1 C1726.1,1968.0 1726.3,1963.9 1726.5,1959.8 C1726.7,1955.6 1726.9,1951.5 1727.0,1947.4 C1727.2,1943.3 1727.3,1939.2 1727.4,1935.1 C1727.6,1931.0 1727.7,1926.9 1727.8,1922.8 C1727.9,1918.7 1728.0,1914.6 1728.1,1910.5 C1728.3,1906.3 1728.4,1902.2 1728.5,1898.1 C1728.5,1894.0 1728.6,1889.9 1728.7,1885.8 C1728.8,1881.7 1728.9,1877.6 1729.0,1873.5 C1729.1,1869.4 1729.2,1865.2 1729.3,1861.1 C1729.4,1857.0 1729.5,1852.9 1729.5,1848.8 C1729.6,1844.7 1729.7,1840.6 1729.8,1836.5 C1729.9,1832.4 1729.9,1828.3 1730.0,1824.1 C1730.1,1820.0 1730.2,1815.9 1730.2,1811.8 C1730.3,1807.7 1730.3,1803.6 1730.4,1799.5 C1730.5,1795.4 1730.5,1791.3 1730.6,1787.2 C1730.6,1783.1 1730.6,1778.9 1730.7,1774.8 C1730.7,1770.7 1730.8,1766.6 1730.8,1762.5 C1730.8,1758.4 1730.8,1754.3 1730.8,1750.2 C1730.9,1746.1 1730.9,1742.0 1730.9,1737.9 C1730.9,1733.8 1730.9,1729.7 1730.9,1725.6 C1730.8,1721.4 1730.8,1717.3 1730.8,1713.2 C1730.8,1709.1 1730.7,1705.0 1730.7,1700.9 C1730.7,1696.8 1730.6,1692.7 1730.5,1688.6 C1730.5,1684.5 1730.4,1680.4 1730.4,1676.3 C1730.3,1672.2 1730.1,1666.1 1730.1,1664.0" stroke-width="5.8" fill="none" stroke-linejoin="round" clip-path="url(#c5)"/>
<path fill-rule="evenodd" fill="#1f1a17" stroke="none" d="M1298,1664H1794V2357H1298Z M1302,1668V2353H1790V1668Z"/>
<text x="1538.81" y="2048.80" font-size="17.88" textLength="44.23" lengthAdjust="spacingAndGlyphs" >Tj=75</text>
<text x="1588.01" y="2048.80" font-size="17.88" textLength="12.66" lengthAdjust="spacingAndGlyphs" >C</text>
<circle cx="1586.5" cy="2036.6" r="1.9" fill="none" stroke-width="0.9"/>
<text x="1539.60" y="2252.90" font-size="17.88" textLength="44.53" lengthAdjust="spacingAndGlyphs" >Tj=25</text>
<text x="1588.99" y="2252.90" font-size="17.88" textLength="12.89" lengthAdjust="spacingAndGlyphs" >C</text>
<circle cx="1587.3" cy="2240.3" r="1.9" fill="none" stroke-width="0.9"/>
<text x="1240.82" y="1676.20" font-size="26.74" textLength="45.65" lengthAdjust="spacingAndGlyphs" >100</text>
<text x="1256.51" y="1847.00" font-size="26.74" textLength="29.12" lengthAdjust="spacingAndGlyphs" >10</text>
<text x="1247.40" y="2020.10" font-size="26.74" textLength="38.27" lengthAdjust="spacingAndGlyphs" >1.0</text>
<text x="1266.27" y="2191.60" font-size="26.74" textLength="19.47" lengthAdjust="spacingAndGlyphs" >.1</text>
<text x="1251.31" y="2361.50" font-size="26.74" textLength="34.92" lengthAdjust="spacingAndGlyphs" >.01</text>
<text x="1288.17" y="2387.60" font-size="26.60" textLength="16.06" lengthAdjust="spacingAndGlyphs" >0</text>
<text x="1357.72" y="2387.60" font-size="26.60" textLength="30.55" lengthAdjust="spacingAndGlyphs" >20</text>
<text x="1428.79" y="2387.60" font-size="26.60" textLength="29.65" lengthAdjust="spacingAndGlyphs" >40</text>
<text x="1497.01" y="2387.60" font-size="26.60" textLength="30.46" lengthAdjust="spacingAndGlyphs" >60</text>
<text x="1567.02" y="2387.60" font-size="26.60" textLength="30.24" lengthAdjust="spacingAndGlyphs" >80</text>
<text x="1627.69" y="2387.60" font-size="26.60" textLength="46.30" lengthAdjust="spacingAndGlyphs" >100</text>
<text x="1696.69" y="2387.60" font-size="26.60" textLength="46.30" lengthAdjust="spacingAndGlyphs" >120</text>
<text x="1766.88" y="2387.60" font-size="26.60" textLength="46.41" lengthAdjust="spacingAndGlyphs" >140</text>
<text x="1268.96" y="2440.00" font-size="22.09" textLength="560.54" lengthAdjust="spacingAndGlyphs" >PERCENT OF RATED PEAK REVERSE VOLTAGE,(%)</text>
<text transform="translate(1210.90,2242.60) rotate(-90)" x="-1.84" y="0" font-size="23.84" textLength="394.63" lengthAdjust="spacingAndGlyphs" >REVERSE LEAKAGE CURRENT, (mA)</text>
</svg>
</body></html>
